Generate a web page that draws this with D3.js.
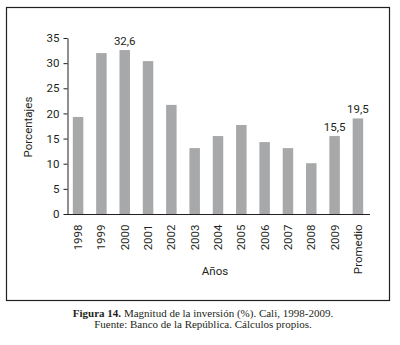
<!DOCTYPE html>
<meta charset="utf-8">
<head>
  <script src="https://d3js.org/d3.v7.min.js"></script>
  <style>
    body { margin: 0; background: #fff; }
    svg text { font-family: Roboto, "DejaVu Sans Condensed", sans-serif; fill: #231f20; }
    svg .caption text { font-family: "Liberation Serif", "DejaVu Serif", serif; }
  </style>
</head>
<body>
<div id="display"></div>
<script>
  var categories = ["1998", "1999", "2000", "2001", "2002", "2003", "2004", "2005", "2006", "2007", "2008", "2009", "Promedio"];
  var values = [19.3, 32.0, 32.6, 30.4, 21.7, 13.1, 15.5, 17.7, 14.3, 13.1, 10.1, 15.5, 19.0];
  var valueLabels = ["", "", "32,6", "", "", "", "", "", "", "", "", "15,5", "19,5"];
  var yTicks = [0, 5, 10, 15, 20, 25, 30, 35];

  var width = 400, height = 345;

  var svg = d3.select("#display")
    .append("svg")
      .attr("width", width)
      .attr("height", height);

  // outer frame
  svg.append("rect")
      .attr("x", 6.5).attr("y", 7.5)
      .attr("width", 383).attr("height", 293)
      .attr("fill", "none")
      .attr("stroke", "#231f20")
      .attr("stroke-width", 1.2);

  var x = d3.scaleBand()
      .domain(categories)
      .range([67, 369])
      .paddingInner(0.55)
      .paddingOuter(0.25);

  var y = d3.scaleLinear()
      .domain([0, 35])
      .range([214, 38]);

  svg.append("g")
    .selectAll("rect")
    .data(values)
    .enter()
    .append("rect")
      .attr("x", function(d, i) { return x(categories[i]); })
      .attr("width", x.bandwidth())
      .attr("y", function(d) { return y(d); })
      .attr("height", function(d) { return y(0) - y(d); })
      .attr("fill", "#a7a8aa");

  // value labels
  svg.append("g")
    .selectAll("text")
    .data(valueLabels)
    .enter()
    .append("text")
      .attr("x", function(d, i) { return x(categories[i]) + x.bandwidth() / 2; })
      .attr("y", function(d, i) { return y(values[i]) - 5; })
      .attr("text-anchor", "middle")
      .style("font-size", "11.5px")
      .text(function(d) { return d; });

  // y axis
  var yAxis = svg.append("g")
      .attr("transform", "translate(67.5,0)")
      .call(d3.axisLeft(y).tickValues(yTicks).tickSize(4).tickSizeOuter(0).tickPadding(4));
  yAxis.selectAll("line, path").attr("stroke", "#231f20");
  yAxis.selectAll("text").style("font-size", "11.5px").attr("font-family", null);

  // x axis
  var xAxis = svg.append("g")
      .attr("transform", "translate(0,214.5)")
      .call(d3.axisBottom(x).tickSize(0).tickPadding(8));
  xAxis.select("path").attr("stroke", "#231f20").attr("d", "M67,0H370");
  xAxis.selectAll("text")
      .style("font-size", "11.5px")
      .attr("font-family", null)
      .attr("transform", "rotate(-90)")
      .attr("text-anchor", "end")
      .attr("x", -10)
      .attr("y", 0)
      .attr("dy", "0.35em");

  svg.append("text")
      .attr("x", 215).attr("y", 275)
      .attr("text-anchor", "middle")
      .style("font-size", "11.5px")
      .text("Años");

  svg.append("text")
      .attr("transform", "translate(32,127) rotate(-90)")
      .attr("text-anchor", "middle")
      .style("font-size", "11.5px")
      .text("Porcentajes");

  var cap = svg.append("g").attr("class", "caption");
  var c1 = cap.append("text")
      .attr("x", 203).attr("y", 317)
      .attr("text-anchor", "middle")
      .style("font-size", "11px");
  c1.append("tspan").attr("font-weight", "bold").text("Figura 14.");
  c1.append("tspan").text(" Magnitud de la inversión (%). Cali, 1998-2009.");
  cap.append("text")
      .attr("x", 203).attr("y", 328)
      .attr("text-anchor", "middle")
      .style("font-size", "11px")
      .text("Fuente: Banco de la República. Cálculos propios.");
</script>
</body>
